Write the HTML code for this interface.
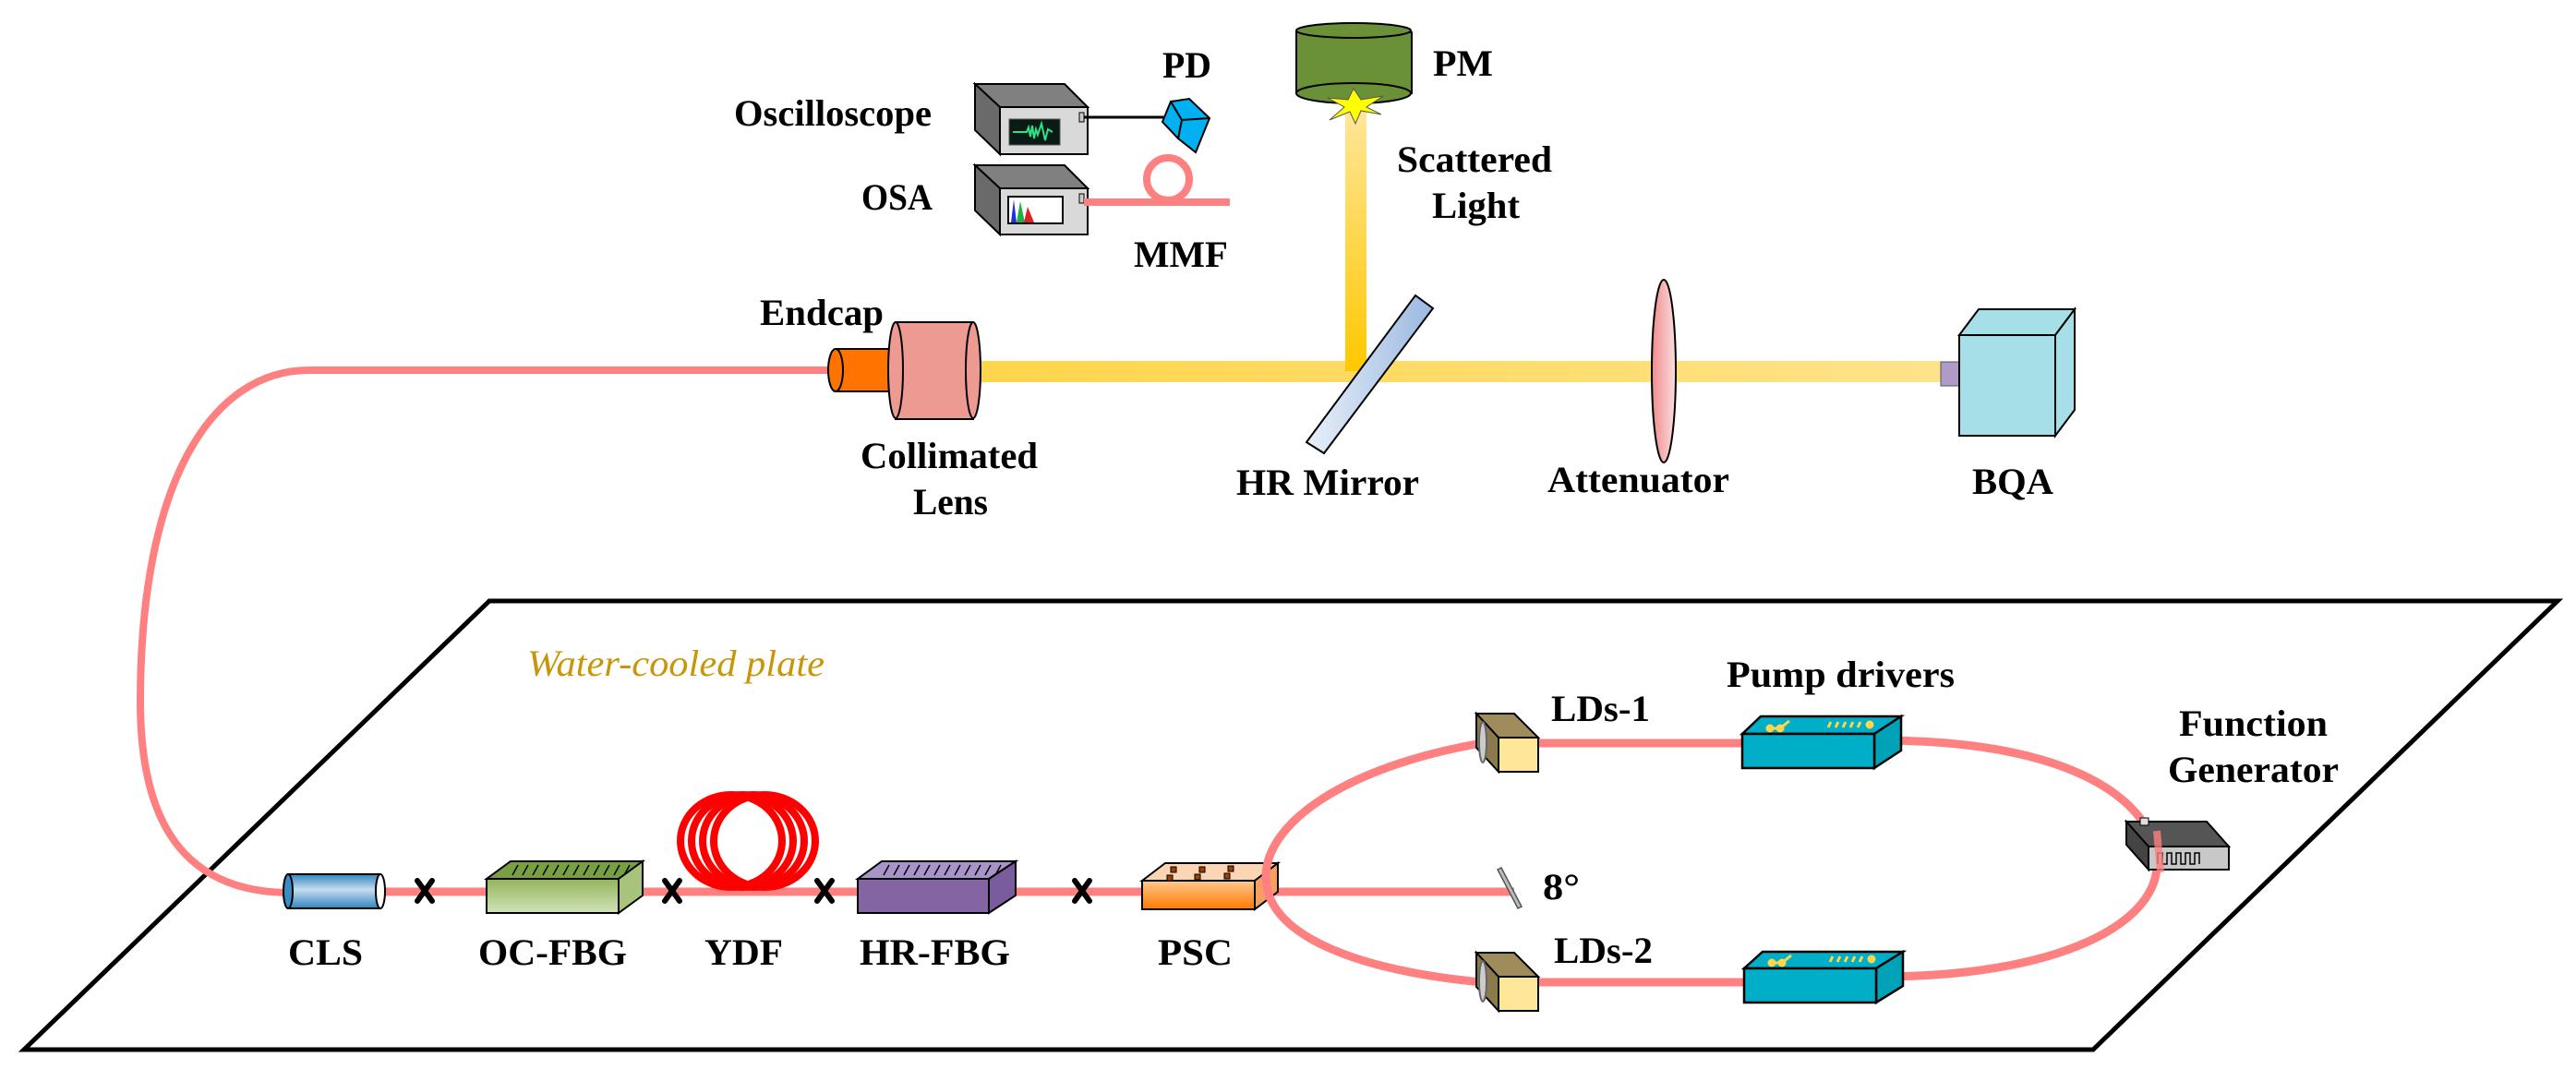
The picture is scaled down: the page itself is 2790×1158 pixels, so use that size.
<!DOCTYPE html>
<html><head><meta charset="utf-8"><style>
html,body{margin:0;padding:0;background:#fff;}
svg{display:block;}
svg text{font-family:'Liberation Serif','Times New Roman','Noto Serif CJK SC','DejaVu Serif',serif;font-weight:bold;font-size:40px;fill:#000;}
</style></head><body>
<svg width="2790" height="1158" viewBox="0 0 2790 1158" xmlns="http://www.w3.org/2000/svg">
<defs>
<linearGradient id="beamL" x1="0" x2="1"><stop offset="0" stop-color="#ffd54a"/><stop offset="1" stop-color="#ffe38a"/></linearGradient>
<linearGradient id="beamV" x1="0" y1="0" x2="0" y2="1"><stop offset="0" stop-color="#ffe69a"/><stop offset="1" stop-color="#ffc800"/></linearGradient>
<linearGradient id="cls" x1="0" y1="0" x2="0" y2="1"><stop offset="0" stop-color="#2e86c1"/><stop offset="0.45" stop-color="#c6dcee"/><stop offset="1" stop-color="#2e86c1"/></linearGradient>
<linearGradient id="ocf" x1="0" y1="0" x2="0" y2="1"><stop offset="0" stop-color="#93b45a"/><stop offset="1" stop-color="#d3e3b8"/></linearGradient>
<linearGradient id="psc" x1="0" y1="0" x2="0" y2="1"><stop offset="0" stop-color="#ffc890"/><stop offset="1" stop-color="#ff7a00"/></linearGradient>
<linearGradient id="att" x1="0" x2="1"><stop offset="0" stop-color="#f08a8a"/><stop offset="1" stop-color="#fbe0e0"/></linearGradient>
<linearGradient id="mir" x1="0" x2="1"><stop offset="0" stop-color="#e8f0fa"/><stop offset="1" stop-color="#9ab8e0"/></linearGradient>
</defs>

<polygon points="530,651 2770,651 2267,1137 26,1137" fill="none" stroke="#000" stroke-width="5"/>
<text x="571" y="732" style="font-style:italic;font-weight:normal;fill:#c8960a" textLength="322" lengthAdjust="spacingAndGlyphs">Water-cooled plate</text>

<path d="M900,401 L335,401 C230,401 152,520 152,760 C152,905 210,967 315,967" fill="none" stroke="#ff8080" stroke-width="8"/>

<rect x="1056" y="391" width="1046" height="23" fill="url(#beamL)"/>
<rect x="1457" y="120" width="23" height="282" fill="url(#beamV)"/>

<rect x="905" y="378" width="62" height="46" fill="#ff7400" stroke="#000" stroke-width="2"/>
<ellipse cx="905" cy="401" rx="8" ry="23" fill="#ff7400" stroke="#000" stroke-width="2"/>
<rect x="970" y="349" width="84" height="105" fill="#ec9a92" stroke="#000" stroke-width="2"/>
<ellipse cx="970" cy="401" rx="8" ry="52" fill="#ec9a92" stroke="#000" stroke-width="2"/>
<ellipse cx="1054" cy="401" rx="8" ry="52" fill="#ec9a92" stroke="#000" stroke-width="2"/>

<polygon points="1533,320 1552,334 1434,491 1415,479" fill="url(#mir)" stroke="#000" stroke-width="2"/>

<ellipse cx="1802" cy="402" rx="13" ry="99" fill="url(#att)" stroke="#000" stroke-width="2"/>

<rect x="2102" y="392" width="20" height="26" fill="#b09ac8" stroke="#555" stroke-width="1"/>
<polygon points="2122,363 2143,335 2247,335 2226,363" fill="#a6dfe8" stroke="#000" stroke-width="2"/>
<polygon points="2226,363 2247,335 2247,444 2226,472" fill="#a6dfe8" stroke="#000" stroke-width="2"/>
<rect x="2122" y="363" width="104" height="109" fill="#a6dfe8" stroke="#000" stroke-width="2"/>

<rect x="1404" y="35" width="125" height="66" fill="#6b9138" stroke="#000" stroke-width="2"/>
<ellipse cx="1466" cy="101" rx="62" ry="11" fill="#6b9138" stroke="#000" stroke-width="2"/>
<ellipse cx="1466" cy="33" rx="62" ry="8" fill="#6b9138" stroke="#000" stroke-width="2"/>
<polygon points="1466,96 1474,108 1498,104 1480,116 1496,124 1474,120 1468,134 1462,121 1440,130 1456,116 1438,106 1460,108" fill="#ffff00" stroke="#555" stroke-width="1"/>

<polygon points="1056,91 1153,91 1178,116 1083,116" fill="#808080" stroke="#000" stroke-width="2"/>
<polygon points="1056,91 1083,116 1083,167 1056,141" fill="#6a6a6a" stroke="#000" stroke-width="2"/>
<rect x="1083" y="116" width="95" height="51" fill="#d9d9d9" stroke="#000" stroke-width="2"/>
<rect x="1093" y="129" width="55" height="28" fill="#0a1a14" stroke="#555"/>
<path d="M1097,143 L1112,143 L1114,138 L1116,148 L1118,136 L1120,150 L1122,140 L1124,146 L1128,134 L1132,152 L1135,140 L1140,143" fill="none" stroke="#2ee08a" stroke-width="2"/>
<rect x="1169" y="122" width="5" height="10" fill="#ccc" stroke="#000"/>
<line x1="1174" y1="127" x2="1272" y2="127" stroke="#000" stroke-width="3"/>
<polygon points="1268,110 1288,107 1310,128 1295,165 1276,150 1259,132" fill="#00b0f0" stroke="#000" stroke-width="2"/>
<polyline points="1268,110 1280,130 1310,128" fill="none" stroke="#000" stroke-width="2"/>
<line x1="1280" y1="130" x2="1276" y2="150" stroke="#000" stroke-width="2"/>

<polygon points="1056,179 1153,179 1178,204 1083,204" fill="#808080" stroke="#000" stroke-width="2"/>
<polygon points="1056,179 1083,204 1083,254 1056,228" fill="#6a6a6a" stroke="#000" stroke-width="2"/>
<rect x="1083" y="204" width="95" height="50" fill="#d9d9d9" stroke="#000" stroke-width="2"/>
<rect x="1092" y="213" width="59" height="29" fill="#fff" stroke="#000" stroke-width="2"/>
<path d="M1095,241 L1098,216 L1101,241 Z" fill="#2030e0"/>
<path d="M1101,241 L1105,218 L1110,241 Z" fill="#20b040"/>
<path d="M1109,241 L1113,224 L1120,241 Z" fill="#e02020"/>
<rect x="1169" y="210" width="5" height="10" fill="#ccc" stroke="#000"/>
<line x1="1174" y1="219" x2="1332" y2="219" stroke="#ff8080" stroke-width="8"/>
<circle cx="1265" cy="194" r="23" fill="none" stroke="#ff8080" stroke-width="8"/>

<line x1="408" y1="966" x2="1640" y2="966" stroke="#ff8080" stroke-width="9"/>

<rect x="312" y="947" width="100" height="37" fill="url(#cls)" stroke="#000" stroke-width="2"/>
<ellipse cx="312" cy="965.5" rx="5" ry="18.5" fill="#3a8cc6" stroke="#000" stroke-width="2"/>
<ellipse cx="412" cy="965.5" rx="5" ry="18.5" fill="#fff" stroke="#000" stroke-width="2"/>

<g stroke="#000" stroke-width="6" stroke-linecap="round">
<path d="M452,954 L468,976 M468,954 L452,976"/>
<path d="M720,954 L736,976 M736,954 L720,976"/>
<path d="M885,954 L901,976 M901,954 L885,976"/>
<path d="M1164,954 L1180,976 M1180,954 L1164,976"/>
</g>

<polygon points="527,952 553,933 696,933 670,952" fill="#77a040" stroke="#000" stroke-width="2"/>
<polygon points="670,952 696,933 696,970 670,989" fill="#a8c47a" stroke="#000" stroke-width="2"/>
<rect x="527" y="952" width="143" height="37" fill="url(#ocf)" stroke="#000" stroke-width="2"/>
<g stroke="#000" stroke-width="1.5">
<path d="M555,948 L561,937 M566,948 L572,937 M577,948 L583,937 M588,948 L594,937 M599,948 L605,937 M610,948 L616,937 M621,948 L627,937 M632,948 L638,937 M643,948 L649,937 M654,948 L660,937 M665,948 L671,937 M676,948 L682,937"/>
</g>

<g fill="none" stroke="#ff0000" stroke-width="8">
<ellipse cx="792" cy="911" rx="55" ry="50"/>
<ellipse cx="804" cy="911" rx="55" ry="50"/>
<ellipse cx="816" cy="911" rx="55" ry="50"/>
<ellipse cx="828" cy="911" rx="55" ry="50"/>
</g>

<polygon points="929,952 955,933 1100,933 1071,952" fill="#a894c8" stroke="#000" stroke-width="2"/>
<polygon points="1071,952 1100,933 1100,970 1071,989" fill="#7a5c9e" stroke="#000" stroke-width="2"/>
<rect x="929" y="952" width="142" height="37" fill="#8464a2" stroke="#000" stroke-width="2"/>
<g stroke="#000" stroke-width="1.5">
<path d="M957,948 L963,937 M968,948 L974,937 M979,948 L985,937 M990,948 L996,937 M1001,948 L1007,937 M1012,948 L1018,937 M1023,948 L1029,937 M1034,948 L1040,937 M1045,948 L1051,937 M1056,948 L1062,937 M1067,948 L1073,937 M1078,948 L1084,937"/>
</g>

<polygon points="1237,954 1262,935 1384,935 1359,954" fill="#fcd5b4" stroke="#000" stroke-width="2"/>
<polygon points="1359,954 1384,935 1384,966 1359,985" fill="#f5a060" stroke="#000" stroke-width="2"/>
<rect x="1237" y="954" width="122" height="31" fill="url(#psc)" stroke="#000" stroke-width="2"/>
<g fill="#a04000" stroke="#000" stroke-width="1">
<rect x="1268" y="939" width="6" height="6"/><rect x="1299" y="939" width="6" height="6"/><rect x="1330" y="938" width="6" height="6"/>
<rect x="1264" y="948" width="6" height="6"/><rect x="1294" y="947" width="6" height="6"/><rect x="1326" y="946" width="6" height="6"/>
</g>

<polygon points="1622,942 1626,940 1648,982 1644,984" fill="#bbb" stroke="#555" stroke-width="1.5"/>

<g fill="none" stroke="#ff8080" stroke-width="9">
<path d="M1605,805 C1460,830 1371,890 1371,950 C1371,1010 1460,1050 1605,1064"/>
<line x1="1660" y1="805" x2="1892" y2="805"/>
<line x1="1660" y1="1064" x2="1892" y2="1064"/>
<path d="M2035,802 C2250,802 2330,870 2336,930 C2342,1000 2230,1058 2035,1058"/>
</g>

<g stroke="#000" stroke-width="2">
<polygon points="1599,773 1640,773 1666,799 1623,799" fill="#9e8c5c"/>
<polygon points="1599,773 1623,799 1623,836 1599,810" fill="#8c7a4c"/>
<rect x="1623" y="799" width="43" height="37" fill="#ffe699"/>
<ellipse cx="1606" cy="804" rx="4" ry="22" fill="#ccc" stroke="#666"/>
<polygon points="1599,1032 1640,1032 1666,1058 1623,1058" fill="#9e8c5c"/>
<polygon points="1599,1032 1623,1058 1623,1095 1599,1069" fill="#8c7a4c"/>
<rect x="1623" y="1058" width="43" height="37" fill="#ffe699"/>
<ellipse cx="1606" cy="1063" rx="4" ry="22" fill="#ccc" stroke="#666"/>
</g>

<g stroke="#000" stroke-width="2.5">
<polygon points="1887,795 1907,776 2059,776 2030,795" fill="#00aec7"/>
<polygon points="2030,795 2059,776 2059,813 2030,832" fill="#00a2b8"/>
<rect x="1887" y="795" width="143" height="37" fill="#00aec7"/>
<polygon points="1889,1049 1909,1031 2061,1031 2032,1049" fill="#00aec7"/>
<polygon points="2032,1049 2061,1031 2061,1068 2032,1086" fill="#00a2b8"/>
<rect x="1889" y="1049" width="143" height="37" fill="#00aec7"/>
</g>
<g stroke="#ffd54a" stroke-width="3" fill="#ffd54a">
<circle cx="1917" cy="789" r="3"/><circle cx="1928" cy="789" r="3"/><line x1="1917" y1="789" x2="1928" y2="789"/><path d="M1928,789 L1938,781" fill="none"/>
<path d="M1980,788 L1983,782 M1988,788 L1991,782 M1996,788 L1999,782 M2004,788 L2007,782 M2012,788 L2015,782" fill="none"/><circle cx="2025" cy="785" r="3"/>
<circle cx="1919" cy="1043" r="3"/><circle cx="1930" cy="1043" r="3"/><line x1="1919" y1="1043" x2="1930" y2="1043"/><path d="M1930,1043 L1940,1035" fill="none"/>
<path d="M1982,1042 L1985,1036 M1990,1042 L1993,1036 M1998,1042 L2001,1036 M2006,1042 L2009,1036 M2014,1042 L2017,1036" fill="none"/><circle cx="2027" cy="1039" r="3"/>
</g>

<g stroke="#000" stroke-width="2">
<polygon points="2303,890 2390,890 2414,917 2327,917" fill="#555"/>
<polygon points="2303,890 2327,917 2327,942 2303,915" fill="#444"/>
<rect x="2327" y="917" width="87" height="25" fill="#c8c8c8"/>
<path d="M2337,936 L2337,924 L2342,924 L2342,936 L2347,936 L2347,924 L2352,924 L2352,936 L2357,936 L2357,924 L2362,924 L2362,936 L2367,936 L2367,924 L2372,924 L2372,936 L2377,936 L2377,924 L2382,924 L2382,936" fill="none" stroke-width="1.5"/>
<rect x="2318" y="886" width="9" height="8" fill="#ddd" stroke-width="1"/>
</g>
<line x1="2336" y1="900" x2="2340" y2="945" stroke="#ff8080" stroke-width="8" opacity="0.8"/>

<g lengthAdjust="spacingAndGlyphs">
<text x="795" y="136" textLength="214" lengthAdjust="spacingAndGlyphs">Oscilloscope</text>
<text x="933" y="227" textLength="77" lengthAdjust="spacingAndGlyphs">OSA</text>
<text x="1259" y="84" textLength="53" lengthAdjust="spacingAndGlyphs">PD</text>
<text x="1552" y="82" textLength="65" lengthAdjust="spacingAndGlyphs">PM</text>
<text x="1513" y="186" textLength="168" lengthAdjust="spacingAndGlyphs">Scattered</text>
<text x="1551" y="236" textLength="95" lengthAdjust="spacingAndGlyphs">Light</text>
<text x="1228" y="289" textLength="102" lengthAdjust="spacingAndGlyphs">MMF</text>
<text x="823" y="352" textLength="134" lengthAdjust="spacingAndGlyphs">Endcap</text>
<text x="932" y="507" textLength="192" lengthAdjust="spacingAndGlyphs">Collimated</text>
<text x="989" y="557" textLength="81" lengthAdjust="spacingAndGlyphs">Lens</text>
<text x="1339" y="536" textLength="198" lengthAdjust="spacingAndGlyphs">HR Mirror</text>
<text x="1676" y="533" textLength="197" lengthAdjust="spacingAndGlyphs">Attenuator</text>
<text x="2136" y="535" textLength="88" lengthAdjust="spacingAndGlyphs">BQA</text>
<text x="312" y="1045" textLength="81" lengthAdjust="spacingAndGlyphs">CLS</text>
<text x="518" y="1045" textLength="161" lengthAdjust="spacingAndGlyphs">OC-FBG</text>
<text x="763" y="1045" textLength="85" lengthAdjust="spacingAndGlyphs">YDF</text>
<text x="931" y="1045" textLength="163" lengthAdjust="spacingAndGlyphs">HR-FBG</text>
<text x="1254" y="1045" textLength="81" lengthAdjust="spacingAndGlyphs">PSC</text>
<text x="1680" y="781" textLength="107" lengthAdjust="spacingAndGlyphs">LDs-1</text>
<text x="1683" y="1043" textLength="107" lengthAdjust="spacingAndGlyphs">LDs-2</text>
<text x="1870" y="744" textLength="247" lengthAdjust="spacingAndGlyphs">Pump drivers</text>
<text x="2360" y="797" textLength="161" lengthAdjust="spacingAndGlyphs">Function</text>
<text x="2348" y="847" textLength="185" lengthAdjust="spacingAndGlyphs">Generator</text>
<text x="1671" y="974" textLength="40" lengthAdjust="spacingAndGlyphs">8°</text>
</g>
</svg>
</body></html>
